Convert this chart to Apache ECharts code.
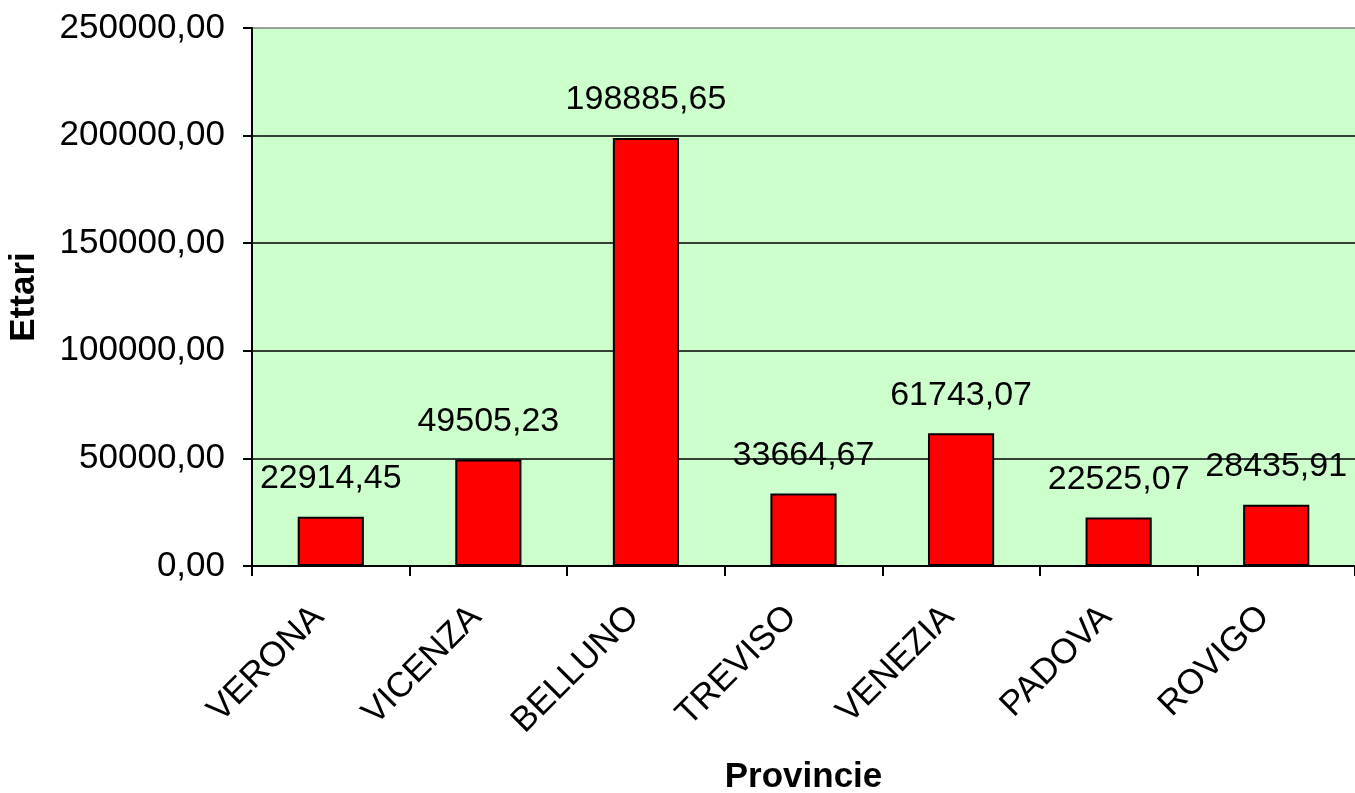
<!DOCTYPE html>
<html>
<head>
<meta charset="utf-8">
<script src="https://cdn.jsdelivr.net/npm/echarts@6/dist/echarts.min.js"></script>
<style>
html,body{margin:0;padding:0;background:#fff;}
#c{width:1355px;height:793px;}
</style>
</head>
<body>
<div id="c"></div>
<script>
const categories = ['VERONA','VICENZA','BELLUNO','TREVISO','VENEZIA','PADOVA','ROVIGO'];
const values = [22914.45, 49505.23, 198885.65, 33664.67, 61743.07, 22525.07, 28435.91];
const yTicks = [0, 50000, 100000, 150000, 200000, 250000];

const fmt = v => v.toFixed(2).replace('.', ',');
const FONT = '"Liberation Sans", Arial, sans-serif';

const chart = echarts.init(document.getElementById('c'));
chart.setOption({
  animation: false,
  grid: {
    left: 252, right: 0, top: 28, bottom: 227,
    containLabel: false, outerBoundsMode: 'none',
    show: true, backgroundColor: '#CCFFCC', borderWidth: 0
  },
  xAxis: {
    type: 'category',
    data: categories,
    name: 'Provincie',
    nameLocation: 'middle',
    nameGap: 194,
    nameTextStyle: { fontFamily: FONT, fontSize: 35, fontWeight: 'bold', color: '#000' },
    axisLine: { lineStyle: { color: '#000', width: 2 } },
    axisTick: { show: true, length: 10, lineStyle: { color: '#000', width: 2 }, alignWithLabel: false },
    axisLabel: { rotate: 45, margin: 58, verticalAlign: 'bottom', fontFamily: FONT, fontSize: 35, color: '#000' }
  },
  yAxis: {
    type: 'value',
    min: 0, max: yTicks[yTicks.length - 1], interval: yTicks[1] - yTicks[0],
    name: 'Ettari',
    nameLocation: 'middle',
    nameGap: 210,
    nameTextStyle: { fontFamily: FONT, fontSize: 35, fontWeight: 'bold', color: '#000' },
    axisLine: { show: true, lineStyle: { color: '#000', width: 2 } },
    axisTick: { show: true, length: 9, lineStyle: { color: '#000', width: 2 } },
    axisLabel: { margin: 27, fontFamily: FONT, fontSize: 35, color: '#000', formatter: v => fmt(v) },
    splitLine: { show: true, lineStyle: { color: ['#000','#000','#000','#000','#000','#808080'], width: 1.5 } }
  },
  series: [{
    type: 'bar',
    data: values,
    barWidth: '42%',
    itemStyle: { color: '#FF0000', borderColor: '#000', borderWidth: 2 },
    label: {
      show: true, position: 'top', distance: 21,
      fontFamily: FONT, fontSize: 34, color: '#000',
      formatter: p => fmt(p.value)
    }
  }]
});
</script>
</body>
</html>
